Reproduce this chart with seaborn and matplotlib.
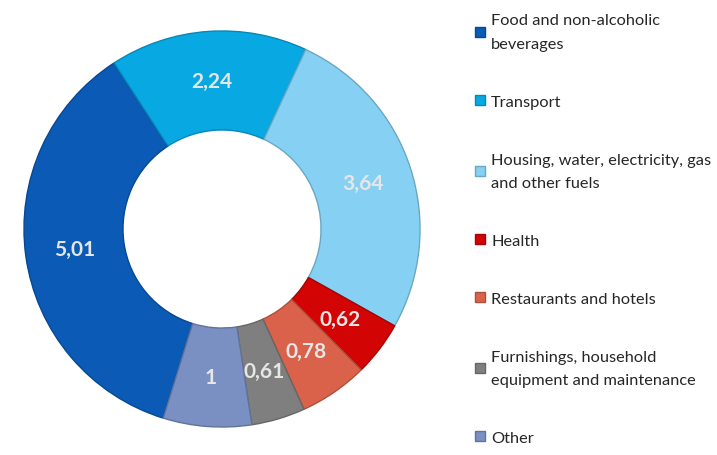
import matplotlib
matplotlib.use('Agg')
import matplotlib.pyplot as plt
import seaborn as sns
import numpy as np

# Dữ liệu: cơ cấu chi tiêu theo nhóm
categories = ['Food and non-alcoholic\nbeverages', 'Transport',
              'Housing, water, electricity, gas\nand other fuels', 'Health',
              'Restaurants and hotels',
              'Furnishings, household\nequipment and maintenance', 'Other']
values = [5.01, 2.24, 3.64, 0.62, 0.78, 0.61, 1]
value_labels = ['5,01', '2,24', '3,64', '0,62', '0,78', '0,61', '1']
colors = ['#0A5AB6', '#08A9E3', '#86D1F3', '#D20404', '#DA624B', '#7F7F7F', '#7A8FC2']

sns.set_theme(style='white')
plt.rcParams['font.family'] = ['Lato', 'DejaVu Sans']
palette = sns.color_palette(colors)

fig = plt.figure(figsize=(7.17, 4.56), dpi=100)
# trục cho biểu đồ donut
ax = fig.add_axes([22 / 717, 26 / 456, 400 / 717, 400 / 456])

total = sum(values)
start = 90 + 360 * (values[0] + values[1] / 2) / total + 4
wedges, _ = ax.pie(values, colors=palette, startangle=start, counterclock=False,
                   radius=1.0, wedgeprops=dict(width=0.5, linewidth=1))
# viền hơi tối hơn màu của từng phần (giống hiệu ứng nổi)
for w, c in zip(wedges, palette):
    w.set_edgecolor(tuple(v * 0.8 for v in c))
ax.set_xlim(-1.01, 1.01)
ax.set_ylim(-1.01, 1.01)
ax.set_aspect('equal')

# nhãn giá trị ở giữa vòng
for w, lab in zip(wedges, value_labels):
    ang = np.deg2rad((w.theta1 + w.theta2) / 2)
    ax.text(0.75 * np.cos(ang), 0.75 * np.sin(ang), lab, ha='center', va='center',
            color='#E6E6E6', fontsize=15, fontweight='bold')

leg = fig.legend(wedges, categories, loc='upper left', bbox_to_anchor=(464 / 717, 1 - 3 / 456),
                 frameon=False, fontsize=11.8, handlelength=0.6, handleheight=0.6,
                 handletextpad=0.35, labelspacing=2.68, borderaxespad=0.3)
for t in leg.get_texts():
    t.set_linespacing(1.85)

fig.savefig('out.png', dpi=100)
